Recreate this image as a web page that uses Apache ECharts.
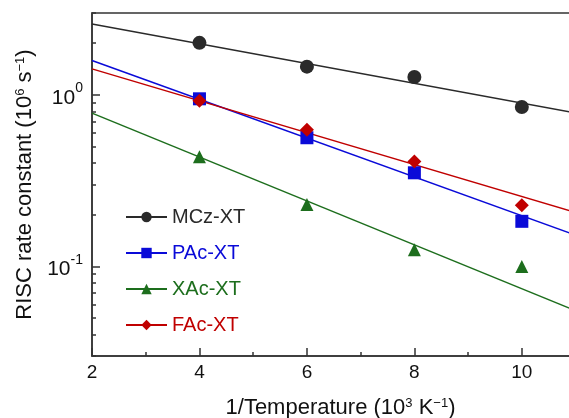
<!DOCTYPE html>
<html><head><meta charset="utf-8">
<script src="https://cdn.jsdelivr.net/npm/echarts@6/dist/echarts.min.js"></script>
<style>html,body{margin:0;padding:0;background:#fff}#c{width:569px;height:418px}</style>
</head><body><div id="c"></div>
<script>
const names = ['MCz-XT', 'PAc-XT', 'XAc-XT', 'FAc-XT'];
const temps = [4, 6, 8, 10];
const mczRate = [2.01, 1.46, 1.27, 0.85];
const pacRate = [0.948, 0.562, 0.351, 0.183];
const xacRate = [0.435, 0.229, 0.125, 0.0997];
const facRate = [0.923, 0.625, 0.409, 0.227];
// fitted line endpoints, at x = 2 and x = 11
const fitX = [2, 11];
const mczFit = [2.59, 0.785];
const pacFit = [1.585, 0.152];
const xacFit = [0.782, 0.0551];
const facFit = [1.417, 0.206];
const xMajor = [2, 4, 6, 8, 10];
const xMinor = [3, 5, 7, 9, 11];
const yMajor = [0.1, 1];
const yMinor = [0.03,0.04,0.05,0.06,0.07,0.08,0.09,0.2,0.3,0.4,0.5,0.6,0.7,0.8,0.9,2,3];

const colors = ['#2a2a2a', '#0a0ad8', '#1d6e1d', '#c00000'];
const symbols = ['circle', 'rect', 'triangle', 'diamond'];
const symSizes = [14, 13, 13, 14];
const rates = [mczRate, pacRate, xacRate, facRate];
const fits = [mczFit, pacFit, xacFit, facFit];

const font = 'Liberation Sans, Arial, Helvetica, sans-serif';
const axisColor = '#333';

const series = [];
names.forEach((n, i) => {
  series.push({
    name: n, type: 'line', xAxisIndex: 0, yAxisIndex: 0,
    data: fitX.map((x, k) => [x, fits[i][k]]),
    symbol: symbols[i], showSymbol: false, silent: true,
    lineStyle: { color: colors[i], width: 1.5 },
    itemStyle: { color: colors[i] },
    z: 2
  });
});
names.forEach((n, i) => {
  series.push({
    name: n + ' data', type: 'scatter', xAxisIndex: 0, yAxisIndex: 0,
    data: temps.map((x, k) => [x, rates[i][k]]),
    symbol: symbols[i], symbolSize: symSizes[i],
    itemStyle: { color: colors[i], opacity: 1 },
    z: 3
  });
});

const supRich = { fontFamily: font, fontSize: 13, color: '#111', verticalAlign: 'top', padding: [0, 0, 9, 0] };

const chart = echarts.init(document.getElementById('c'), null, { renderer: 'canvas' });
chart.setOption({
  animation: false,
  backgroundColor: '#fff',
  textStyle: { fontFamily: font },
  grid: { left: 92, top: 13, bottom: 62, right: -20, containLabel: false, outerBoundsMode: 'none',
          show: true, borderColor: axisColor, borderWidth: 1.5, backgroundColor: 'transparent' },
  legend: {
    orient: 'vertical', left: 125, top: 207, padding: 0, itemWidth: 41, itemHeight: 13, itemGap: 16,
    data: names.map((n, i) => ({ name: n, textStyle: { color: colors[i] } })),
    textStyle: { fontFamily: font, fontSize: 20 },
    selectedMode: false
  },
  xAxis: [
    { type: 'value', position: 'bottom', min: 2, max: 11.25,
      name: '{a|1/Temperature (10}{s|3}{a| K}{s|−1}{a|)}', nameLocation: 'middle', nameGap: 41,
      nameTextStyle: { rich: {
        a: { fontFamily: font, fontSize: 22, color: '#111' },
        s: supRich } },
      axisLine: { show: true, lineStyle: { color: axisColor, width: 1.5 } },
      axisTick: { show: true, inside: true, length: 8, customValues: xMajor, lineStyle: { color: axisColor, width: 1.5 } },
      axisLabel: { customValues: xMajor, fontFamily: font, fontSize: 19, color: '#111', margin: 7 },
      splitLine: { show: false } },
    { type: 'value', position: 'bottom', min: 2, max: 11.25,
      axisLine: { show: false },
      axisTick: { show: true, inside: true, length: 4, customValues: xMinor, lineStyle: { color: axisColor, width: 1.5 } },
      axisLabel: { show: false }, splitLine: { show: false } }
  ],
  yAxis: [
    { type: 'log', position: 'left', min: 0.03, max: 3, logBase: 10,
      name: '{a|RISC rate constant (10}{s|6}{a| s}{s|−1}{a|)}', nameLocation: 'middle', nameGap: 54,
      nameTextStyle: { rich: {
        a: { fontFamily: font, fontSize: 22, color: '#111' },
        s: supRich } },
      axisLine: { show: true, lineStyle: { color: axisColor, width: 1.5 } },
      axisTick: { show: true, inside: true, length: 8, customValues: yMajor, lineStyle: { color: axisColor, width: 1.5 } },
      axisLabel: { customValues: yMajor, margin: 9,
        formatter: v => '{b|10}{s|' + Math.round(Math.log10(v)) + '}',
        rich: {
          b: { fontFamily: font, fontSize: 21, color: '#111', padding: [6, 0, 0, 0] },
          s: { fontFamily: font, fontSize: 14, color: '#111', verticalAlign: 'top', padding: [0, 0, 8, 0] } } },
      splitLine: { show: false } },
    { type: 'log', position: 'left', min: 0.03, max: 3, logBase: 10,
      axisLine: { show: false },
      axisTick: { show: true, inside: true, length: 4, customValues: yMinor, lineStyle: { color: axisColor, width: 1.5 } },
      axisLabel: { show: false }, splitLine: { show: false } }
  ],
  series: series
});
</script></body></html>
